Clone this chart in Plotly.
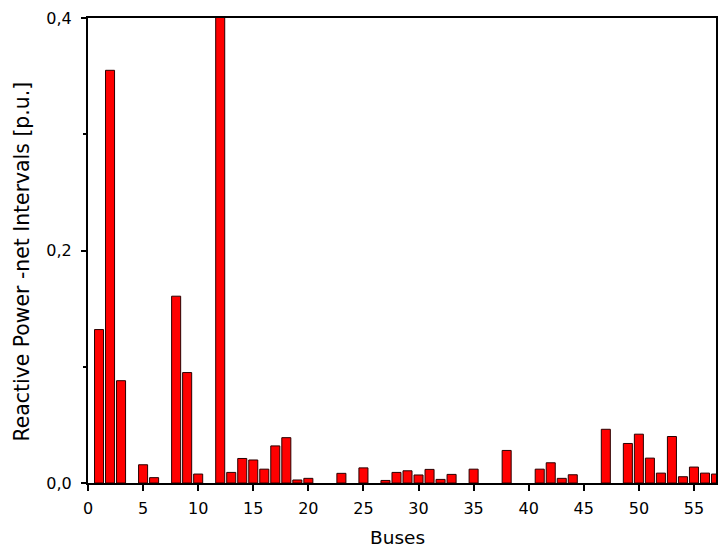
import plotly.graph_objects as go

buses = [1, 2, 3, 5, 6, 8, 9, 10, 12, 13, 14, 15, 16, 17, 18, 19, 20, 23, 25, 27,
         28, 29, 30, 31, 32, 33, 35, 38, 41, 42, 43, 44, 47, 49, 50, 51, 52, 53,
         54, 55, 56, 57]
values = [0.132, 0.355, 0.088, 0.0157, 0.0046, 0.1607, 0.095, 0.0077, 0.45, 0.0091,
          0.0211, 0.0198, 0.0119, 0.0319, 0.039, 0.0026, 0.004, 0.0083, 0.013, 0.0022,
          0.0091, 0.0105, 0.0069, 0.0117, 0.0031, 0.0074, 0.0119, 0.028, 0.0119, 0.0174,
          0.004, 0.0071, 0.0462, 0.034, 0.042, 0.0214, 0.0085, 0.040,
          0.0054, 0.0137, 0.0085, 0.0077]

xticks = [0, 5, 10, 15, 20, 25, 30, 35, 40, 45, 50, 55]
yticks = [0.0, 0.2, 0.4]
x_title = "Buses"
y_title = "Reactive Power -net Intervals [p.u.]"

fig = go.Figure()
fig.add_trace(go.Bar(
    x=buses, y=values, width=0.82,
    marker=dict(color="#FF0000", line=dict(color="#2a0000", width=1)),
))

font = "DejaVu Sans, Liberation Sans, Arial, sans-serif"
fig.update_layout(
    width=720, height=558,
    margin=dict(l=88, r=2, t=18, b=75),
    paper_bgcolor="white", plot_bgcolor="white",
    separators=",.",
    showlegend=False,
    font=dict(family=font, size=16, color="black"),
    annotations=[
        dict(text=y_title, xref="paper", yref="paper", x=-0.1046, y=0.477,
             xanchor="center", yanchor="middle", textangle=-90, showarrow=False,
             font=dict(size=20.4)),
        dict(text=x_title, xref="paper", yref="paper", x=0.493, y=-0.118,
             xanchor="center", yanchor="middle", showarrow=False,
             font=dict(size=18.5)),
    ],
)
fig.update_xaxes(
    range=[0, 57], tickvals=xticks, showgrid=False, zeroline=False,
    showline=True, linecolor="black", linewidth=2, mirror=True,
    ticks="outside", ticklen=6, tickwidth=2, tickcolor="black",
    ticklabelstandoff=4,
    tickfont=dict(size=16),
)
fig.update_yaxes(
    range=[0, 0.4], tickvals=yticks, tickformat=".1f", showgrid=False, zeroline=False,
    showline=True, linecolor="black", linewidth=2, mirror=True,
    ticks="outside", ticklen=5, tickwidth=2, tickcolor="black",
    ticklabelstandoff=6,
    minor=dict(tickvals=[0.1, 0.3], ticks="outside", ticklen=3, tickwidth=2, tickcolor="black"),
    tickfont=dict(size=16),
)
fig.write_html("out.html")
